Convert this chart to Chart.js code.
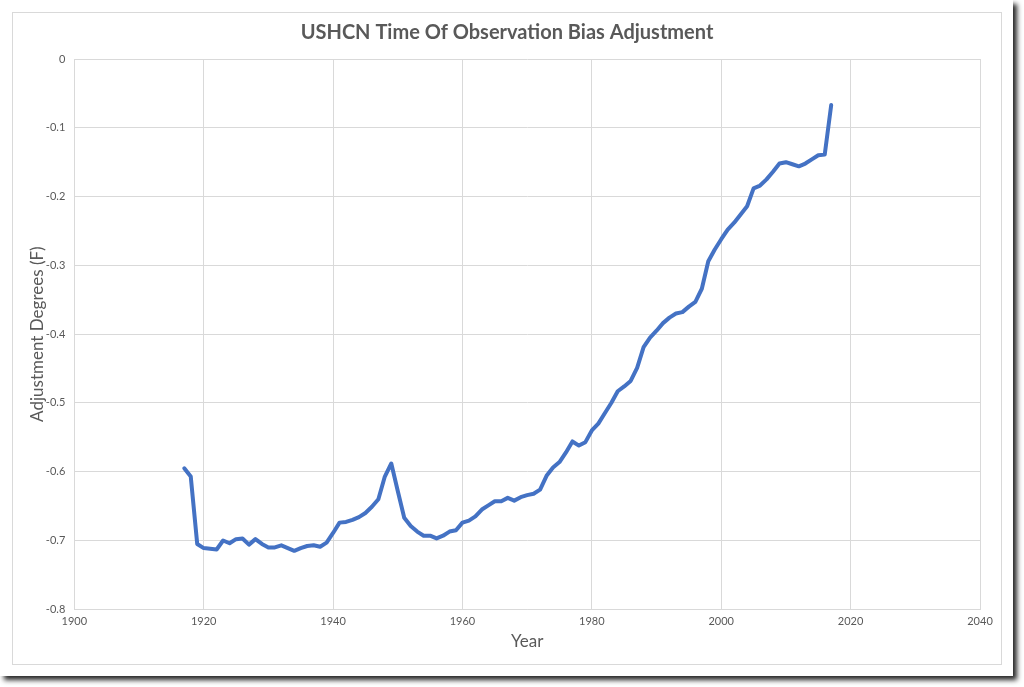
<!DOCTYPE html>
<html>
<head>
<meta charset="utf-8">
<script src="https://cdn.jsdelivr.net/npm/chart.js@4.4.0/dist/chart.umd.min.js"></script>
<style>
  html, body { margin: 0; padding: 0; background: #ffffff; }
  .frame {
    position: absolute; left: 0; top: 0; width: 1013px; height: 676px;
    background: #ffffff;
    box-shadow: 4px 4px 5px rgba(0, 0, 0, 0.85);
  }
  .box {
    position: absolute; left: 12px; top: 12px; width: 988px; height: 651px;
    border: 1px solid #d9d9d9;
  }
  canvas { display: block; }
</style>
</head>
<body>
<div class="frame">
  <div class="box">
    <canvas id="tobsChart" width="988" height="651"></canvas>
  </div>
</div>
<script>
// Data
const years = [];
for (let y = 1917; y <= 2017; y++) years.push(y);

const adjustment = [
  -0.595, -0.607, -0.705,                                                   // 1917-1919
  -0.711, -0.712, -0.713, -0.700, -0.704, -0.698, -0.697, -0.706, -0.698, -0.705, // 1920s
  -0.710, -0.710, -0.707, -0.711, -0.715, -0.711, -0.708, -0.707, -0.709, -0.703, // 1930s
  -0.689, -0.674, -0.673, -0.670, -0.666, -0.660, -0.651, -0.640, -0.607, -0.588, // 1940s
  -0.628, -0.667, -0.679, -0.687, -0.693, -0.693, -0.697, -0.693, -0.687, -0.685, // 1950s
  -0.674, -0.671, -0.665, -0.655, -0.649, -0.643, -0.643, -0.638, -0.642, -0.637, // 1960s
  -0.634, -0.632, -0.626, -0.606, -0.594, -0.586, -0.572, -0.556, -0.562, -0.557, // 1970s
  -0.540, -0.530, -0.515, -0.500, -0.483, -0.476, -0.468, -0.449, -0.419, -0.405, // 1980s
  -0.395, -0.384, -0.376, -0.370, -0.368, -0.360, -0.353, -0.334, -0.294, -0.277, // 1990s
  -0.262, -0.248, -0.238, -0.226, -0.214, -0.188, -0.184, -0.175, -0.164, -0.152, // 2000s
  -0.150, -0.153, -0.156, -0.152, -0.146, -0.140, -0.139, -0.067                  // 2010-2017
];

const xTicks = [1900, 1920, 1940, 1960, 1980, 2000, 2020, 2040];
const yTicks = [0, -0.1, -0.2, -0.3, -0.4, -0.5, -0.6, -0.7, -0.8];
const yTickLabels = ['0', '-0.1', '-0.2', '-0.3', '-0.4', '-0.5', '-0.6', '-0.7', '-0.8'];

const points = years.map((yr, i) => ({ x: yr, y: adjustment[i] }));

const gray = '#595959';
const gridColor = '#d9d9d9';
const fontFamily = 'Lato, "Open Sans", "Liberation Sans", sans-serif';

const ctx = document.getElementById('tobsChart').getContext('2d');
new Chart(ctx, {
    type: 'line',
    data: {
        datasets: [{
            label: 'TOBS',
            data: points,
            borderColor: '#4472c4',
            borderWidth: 4,
            pointRadius: 0,
            tension: 0,
            borderJoinStyle: 'round',
            borderCapStyle: 'round',
            fill: false
        }]
    },
    options: {
        responsive: false,
        animation: false,
        // equal side padding keeps the title centred on the whole box
        layout: { padding: { top: 0, right: 21, left: 21, bottom: 0 } },
        plugins: {
            legend: { display: false },
            tooltip: { enabled: false },
            title: {
                display: true,
                text: 'USHCN Time Of Observation Bias Adjustment',
                color: gray,
                font: { family: fontFamily, size: 20, weight: 'bold' },
                padding: { top: 8, bottom: 14 }
            }
        },
        scales: {
            x: {
                type: 'linear',
                min: xTicks[0],
                max: xTicks[xTicks.length - 1],
                afterBuildTicks: s => { s.ticks = xTicks.map(v => ({ value: v })); },
                afterFit: s => { s.height = 54.7; },
                ticks: {
                    color: gray,
                    font: { family: fontFamily, size: 11 },
                    padding: 6,
                    maxRotation: 0,
                    callback: v => String(v)
                },
                grid: { color: gridColor, drawTicks: false },
                border: { color: gridColor },
                title: {
                    display: true,
                    text: 'Year',
                    color: gray,
                    font: { family: fontFamily, size: 17 },
                    padding: { top: 0, bottom: 12 }
                }
            },
            y: {
                min: yTicks[yTicks.length - 1],
                max: yTicks[0],
                afterBuildTicks: s => { s.ticks = yTicks.slice().reverse().map(v => ({ value: v })); },
                afterFit: s => { s.width = 40.3; },
                ticks: {
                    color: gray,
                    font: { family: fontFamily, size: 11 },
                    padding: 9,
                    callback: v => yTickLabels[yTicks.findIndex(t => Math.abs(t - v) < 1e-9)]
                },
                grid: { color: gridColor, drawTicks: false },
                border: { color: gridColor },
                title: {
                    display: true,
                    text: 'Adjustment Degrees (F)',
                    color: gray,
                    font: { family: fontFamily, size: 17 },
                    padding: { top: -7, bottom: 0 }
                }
            }
        }
    }
});
</script>
</body>
</html>
